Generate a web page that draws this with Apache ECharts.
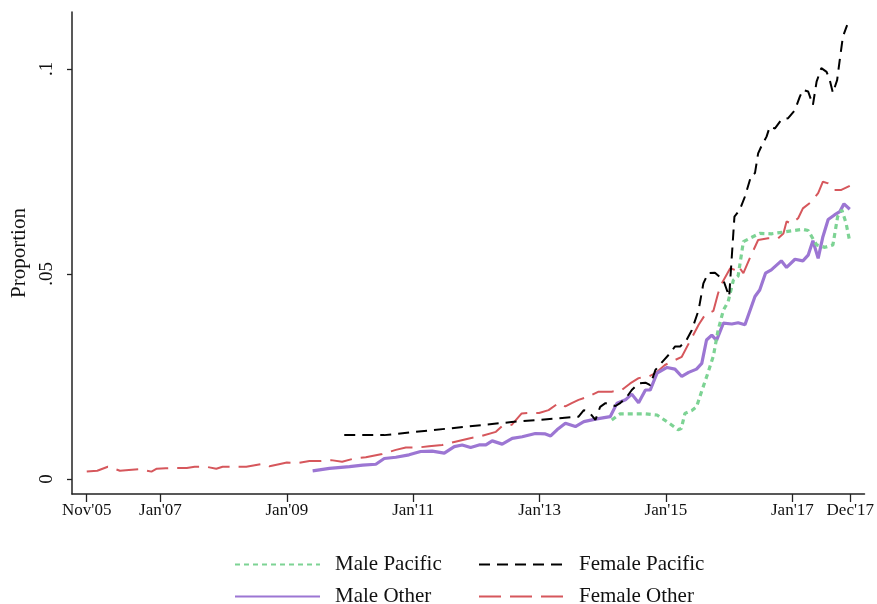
<!DOCTYPE html>
<html>
<head>
<meta charset="utf-8">
<script src="https://cdn.jsdelivr.net/npm/echarts@6/dist/echarts.min.js"></script>
<style>
html,body{margin:0;padding:0;background:#fff;}
#chart{width:877px;height:604px;}
</style>
</head>
<body>
<div id="chart"></div>
<script>
// Month index: 0 = Nov 2005, 145 = Dec 2017
const tickMonths = [0, 14, 38, 62, 86, 110, 134, 145];
const tickLabels = ["Nov'05", "Jan'07", "Jan'09", "Jan'11", "Jan'13", "Jan'15", "Jan'17", "Dec'17"];
const yTicks = [0, 0.05, 0.1];
const yTickLabels = ["0", ".05", ".1"];

const malePacificMonths = [99.7,101.3,103.5,106.1,108.3,110.5,112.3,112.9,113.6,114.9,115.8,116.8,118,119,119.9,120.9,121.8,122.8,123.7,124.7,125.9,127.8,130,131.6,133.8,136,137,138.6,140.2,141.7,142.6,143.4,144.2,144.9];
const malePacific = [.0144,.0159,.0159,.0159,.0156,.0137,.0120,.0123,.0160,.0167,.0176,.0215,.0260,.0300,.0363,.0412,.0432,.0485,.0495,.0579,.0587,.0599,.0598,.0601,.0605,.0609,.0606,.0571,.0565,.0571,.0640,.0656,.0624,.0579];

const femalePacificMonths = [48.9,56.5,80.7,93.4,94.4,95.6,96.6,97.5,98.5,100.4,101.3,102.6,103.5,104.8,106.1,107,108,109.6,110.8,111.7,112.7,113.9,114.9,116.2,117.1,118,119.3,120.9,122,123,124,125,126.2,126.9,127.5,128.1,129.1,129.7,130.7,131.9,133.2,134.5,135.4,136,137,137.9,138.6,139.5,140.5,141.1,141.7,142.5,143,143.6,144.4];
const femalePacific = [.0107,.0107,.0139,.0152,.0168,.0160,.0144,.0176,.0185,.0178,.0185,.0201,.0217,.0233,.0235,.0229,.0266,.0290,.0307,.0323,.0323,.0339,.0363,.0412,.0477,.0502,.0503,.0485,.0445,.0640,.0656,.0689,.0741,.0746,.0794,.0811,.0835,.0859,.0855,.0876,.0880,.0900,.0932,.0949,.0945,.0912,.0969,.1002,.0993,.0973,.0942,.0973,.1022,.1079,.1107];

const maleOtherMonths = [42.9,46.1,49.9,52.4,54.9,56.5,58.7,61.2,63.4,65.6,67.9,69.8,71.3,72.9,74.5,75.8,77,78.9,80.8,82.7,85.2,87.1,88.1,89.3,90.9,92.8,94.4,96.6,99.4,100.7,102.3,103.5,104.8,106.1,107,108.3,110.2,111.7,113,114.3,115.8,116.8,117.7,118.7,119.6,120.9,122.5,123.7,125,126.9,127.8,128.9,130,131.9,132.9,134.5,136,137,137.9,138.9,139.8,140.8,142,143,143.8,144.9];
const maleOther = [.0020,.0026,.0030,.0034,.0036,.0050,.0053,.0059,.0067,.0068,.0063,.0079,.0083,.0077,.0083,.0083,.0093,.0085,.0099,.0103,.0111,.0110,.0105,.0120,.0136,.0128,.0140,.0146,.0152,.0185,.0193,.0207,.0186,.0217,.0217,.0258,.0272,.0268,.0250,.0260,.0268,.0282,.0339,.0351,.0338,.0380,.0378,.0381,.0376,.0445,.0461,.0502,.0510,.0532,.0516,.0536,.0532,.0546,.0581,.0538,.0591,.0633,.0644,.0652,.0671,.0658];

const femaleOtherMonths = [0,2,4,5,6.3,8,10,12.3,13.3,15,17,19,20.5,22.6,24.6,25.8,28,30.3,33.4,34.7,36.5,38,40,42.3,44.5,46.4,48.5,50.8,53,56.1,58.7,60.6,63.1,65,67.5,70,72.6,75,77.7,78.8,80.7,82.6,84,85.9,87.7,89.6,90.9,92.1,93.4,95.3,97.2,99.7,101.6,103.2,104.8,106.7,108,109.8,111.7,113,114.5,116.2,117.4,119,119.9,120.6,122.2,123.1,123.7,124.7,125.9,127.5,129.4,131.3,132.3,132.9,133.8,135.1,136,137.6,138.9,139.8,140.8,142,143.3,144.9];
const femaleOther = [.0018,.0020,.0030,.0026,.0020,.0022,.0024,.0018,.0025,.0026,.0027,.0027,.0030,.0030,.0025,.0030,.0030,.0030,.0037,.0031,.0036,.0040,.0039,.0044,.0044,.0046,.0042,.0050,.0053,.0061,.0071,.0077,.0077,.0080,.0083,.0091,.0099,.0105,.0115,.0128,.0132,.0160,.0161,.0161,.0168,.0185,.0177,.0185,.0193,.0201,.0213,.0213,.0217,.0233,.0246,.0250,.0258,.0278,.0290,.0298,.0335,.0376,.0400,.0410,.0453,.0477,.0514,.0510,.0520,.0502,.0538,.0583,.0587,.0587,.0599,.0628,.0623,.0636,.0660,.0676,.0697,.0725,.0721,.0705,.0705,.0715];

const pairs = (ms, vs) => ms.map((m, i) => [m, vs[i]]);
const FONT = '"Liberation Serif", "DejaVu Serif", serif';

function legendItem(name, left, top) {
  return {
    data: [name], orient: 'horizontal', left: left, top: top,
    itemWidth: 85, itemHeight: 14,
    itemStyle: {opacity: 0},
    textStyle: {fontFamily: FONT, fontSize: 21, color: '#111', padding: [0, 0, 0, 10]}
  };
}

const chart = echarts.init(document.getElementById('chart'), null, {renderer: 'canvas'});
chart.setOption({
  animation: false,
  backgroundColor: '#fff',
  grid: {left: 72, right: 11, top: 12, bottom: 110, containLabel: false},
  xAxis: {
    type: 'value', min: -2.8, max: 147.7,
    axisLine: {show: true, onZero: false, lineStyle: {color: '#222', width: 1.5}},
    axisTick: {show: true, customValues: tickMonths, length: 8, lineStyle: {color: '#222', width: 1.3}},
    axisLabel: {
      customValues: tickMonths, margin: 8,
      formatter: v => tickLabels[tickMonths.indexOf(v)] || '',
      fontFamily: FONT, fontSize: 17, color: '#111'
    },
    splitLine: {show: false}
  },
  yAxis: {
    type: 'value', min: -0.00366, max: 0.1139,
    name: 'Proportion', nameLocation: 'middle', nameGap: 39,
    nameTextStyle: {fontFamily: FONT, fontSize: 21, color: '#111'},
    axisLine: {show: true, onZero: false, lineStyle: {color: '#222', width: 1.5}},
    axisTick: {show: true, customValues: yTicks, length: 5, lineStyle: {color: '#222', width: 1.3}},
    axisLabel: {
      customValues: yTicks, rotate: 90, margin: 15,
      formatter: v => { const i = yTicks.findIndex(t => Math.abs(t - v) < 1e-9); return i >= 0 ? yTickLabels[i] : ''; },
      fontFamily: FONT, fontSize: 19, color: '#111'
    },
    splitLine: {show: false}
  },
  legend: [
    legendItem('Male Pacific', 229, 549),
    legendItem('Male Other', 229, 581),
    legendItem('Female Pacific', 473, 549),
    legendItem('Female Other', 473, 581)
  ],
  series: [
    {name: 'Male Pacific', type: 'line', symbol: 'none', data: pairs(malePacificMonths, malePacific),
     lineStyle: {color: '#7dd394', width: 3.2, type: [5, 4]}, itemStyle: {color: '#7dd394'}, z: 3},
    {name: 'Female Pacific', type: 'line', symbol: 'none', data: pairs(femalePacificMonths, femalePacific),
     lineStyle: {color: '#000', width: 2, type: [11, 7]}, itemStyle: {color: '#000'}, z: 4},
    {name: 'Male Other', type: 'line', symbol: 'none', data: pairs(maleOtherMonths, maleOther),
     lineStyle: {color: '#9c76d3', width: 3.2, type: 'solid'}, itemStyle: {color: '#9c76d3'}, z: 2},
    {name: 'Female Other', type: 'line', symbol: 'none', data: pairs(femaleOtherMonths, femaleOther),
     lineStyle: {color: '#d6575c', width: 2, type: [22, 9]}, itemStyle: {color: '#d6575c'}, z: 1}
  ]
});
</script>
</body>
</html>
